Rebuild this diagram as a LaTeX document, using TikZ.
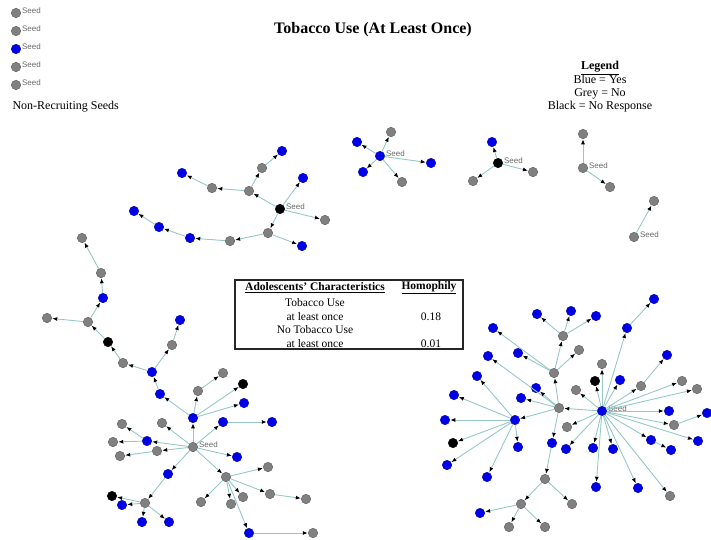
\documentclass[tikz,border=0pt]{standalone}
\usepackage{fontspec}
\setmainfont{Liberation Serif}
\newfontfamily\labelfont{Liberation Sans}
\usetikzlibrary{positioning,arrows.meta}
\definecolor{linkcol}{RGB}{150,200,200}
\definecolor{yescol}{RGB}{0,0,230}
\definecolor{nocol}{RGB}{128,128,128}
\definecolor{seedgrey}{RGB}{105,105,105}

\begin{document}
\begin{tikzpicture}[x=1pt,y=-1pt,
	yesnode/.style={circle,inner sep=0pt,minimum size=9.5pt,fill=yescol,draw=yescol!75!black,line width=0.4pt},
	nonode/.style={circle,inner sep=0pt,minimum size=9.5pt,fill=nocol,draw=nocol!70!black,line width=0.4pt},
	nrnode/.style={circle,inner sep=0pt,minimum size=9.5pt,fill=black,draw=black,line width=0.4pt},
	link/.style={draw=linkcol,line width=0.9pt,-{Latex[length=5pt,width=4pt,black]},shorten >=0.3pt},
	seedtext/.style={font=\labelfont\fontsize{8}{9}\selectfont,text=seedgrey,inner sep=0pt,yshift=2.5pt}]
		\useasboundingbox (0,0) rectangle (711,539);
		
		\node (title) at (373,30){\fontsize{16}{18}\selectfont\bfseries Tobacco Use (At Least Once)};
		
		\node[align=center,font=\fontsize{12}{13.4}\selectfont] (legend) at (600,87){\textbf{\underline{Legend}}\\Blue = Yes\\Grey = No\\Black = No Response};
		
		\node[nonode] (n1) at (16,13){};
		\node[nonode] (n2) at (16,31){};
		\node[yesnode] (n3) at (16,49){};
		\node[nonode] (n4) at (16,67){};
		\node[nonode] (n5) at (16,85){};
		\node[seedtext,right=1pt of n1] (n1t){Seed};
		\node[seedtext,right=1pt of n2] (n2t){Seed};
		\node[seedtext,right=1pt of n3] (n3t){Seed};
		\node[seedtext,right=1pt of n4] (n4t){Seed};
		\node[seedtext,right=1pt of n5] (n5t){Seed};
		\node[anchor=west] (nrs) at (9,107){\fontsize{12}{14}\selectfont Non-Recruiting Seeds};
		
		\draw[line width=1.3pt,draw=black!85] (235,280) rectangle (463,349);
		\node (chr) at (315,288){\fontsize{11.5}{13}\selectfont\textbf{\underline{Adolescents' Characteristics}}};
		\node (hom) at (429,288){\fontsize{11.5}{13}\selectfont\textbf{\underline{Homophily}}};
		\node (use) at (315,303){\fontsize{11.5}{13}\selectfont Tobacco Use};
		\node (usea) at (315,317){\fontsize{11.5}{13}\selectfont at least once};
		\node (useh) at (431,317){\fontsize{11.5}{13}\selectfont 0.18};
		\node (nouse) at (315,330){\fontsize{11.5}{13}\selectfont No Tobacco Use};
		\node (nousea) at (315,344){\fontsize{11.5}{13}\selectfont at least once};
		\node (nouseh) at (431,344){\fontsize{11.5}{13}\selectfont 0.01};
		
		\node[nrnode] (a0) at (280,209){};
		\node[nonode] (a1) at (249,191){};
		\node[nonode] (a2) at (212,188){};
		\node[yesnode] (a3) at (182,173){};
		\node[nonode] (a4) at (262,168){};
		\node[yesnode] (a5) at (282,151){};
		\node[yesnode] (a6) at (303,178){};
		\node[nonode] (a7) at (325,220){};
		\node[nonode] (a8) at (268,233){};
		\node[nonode] (a9) at (230,241){};
		\node[yesnode] (a10) at (190,238){};
		\node[yesnode] (a11) at (159,227){};
		\node[yesnode] (a12) at (134,211){};
		\node[yesnode] (a13) at (302,246){};
		\node[seedtext,right=1pt of a0] (a0t){Seed};
		
		\draw[link] (a0) -- (a1);
		\draw[link] (a1) -- (a2);
		\draw[link] (a2) -- (a3);
		\draw[link] (a1) -- (a4);
		\draw[link] (a4) -- (a5);
		\draw[link] (a0) -- (a6);
		\draw[link] (a0) -- (a7);
		\draw[link] (a0) -- (a8);
		\draw[link] (a8) -- (a9);
		\draw[link] (a9) -- (a10);
		\draw[link] (a10) -- (a11);
		\draw[link] (a11) -- (a12);
		\draw[link] (a8) -- (a13);
		
		\node[yesnode] (b0) at (380,156){};
		\node[yesnode] (b1) at (357,142){};
		\node[nonode] (b2) at (391,132){};
		\node[yesnode] (b3) at (431,163){};
		\node[yesnode] (b4) at (363,172){};
		\node[nonode] (b5) at (402,182){};
		\node[seedtext,right=1pt of b0] (b0t){Seed};
		
		\draw[link] (b0) -- (b1);
		\draw[link] (b0) -- (b2);
		\draw[link] (b0) -- (b3);
		\draw[link] (b0) -- (b4);
		\draw[link] (b0) -- (b5);
		
		\node[nrnode] (c0) at (498,163){};
		\node[yesnode] (c1) at (492,142){};
		\node[nonode] (c2) at (473,181){};
		\node[nonode] (c3) at (533,172){};
		\node[seedtext,right=1pt of c0] (c0t){Seed};
		
		\draw[link] (c0) -- (c1);
		\draw[link] (c0) -- (c2);
		\draw[link] (c0) -- (c3);
		
		\node[nonode] (d0) at (583,168){};
		\node[nonode] (d1) at (583,134){};
		\node[nonode] (d2) at (610,187){};
		\node[seedtext,right=1pt of d0] (d0t){Seed};
		
		\draw[link] (d0) -- (d1);
		\draw[link] (d0) -- (d2);
		
		\node[nonode] (e0) at (634,237){};
		\node[nonode] (e1) at (654,201){};
		\node[seedtext,right=1pt of e0] (e0t){Seed};
		
		\draw[link] (e0) -- (e1);
		
		\node[nonode] (f0) at (193,447){};
		\node[yesnode] (f1) at (193,418){};
		\node[yesnode] (f2) at (160,394){};
		\node[yesnode] (f3) at (152,372){};
		\node[nonode] (f4) at (123,363){};
		\node[nrnode] (f5) at (108,342){};
		\node[nonode] (f6) at (88,322){};
		\node[nonode] (f7) at (47,318){};
		\node[yesnode] (f8) at (103,298){};
		\node[nonode] (f9) at (101,273){};
		\node[nonode] (f10) at (82,238){};
		\node[nonode] (f11) at (172,345){};
		\node[yesnode] (f12) at (180,320){};
		\node[nonode] (f13) at (198,391){};
		\node[nonode] (f14) at (223,373){};
		\node[nrnode] (f15) at (243,384){};
		\node[yesnode] (f16) at (244,403){};
		\node[yesnode] (f17) at (223,422){};
		\node[yesnode] (f18) at (272,422){};
		\node[yesnode] (f19) at (147,441){};
		\node[nonode] (f20) at (122,424){};
		\node[nonode] (f21) at (113,442){};
		\node[nonode] (f22) at (162,423){};
		\node[nonode] (f23) at (157,451){};
		\node[nonode] (f24) at (120,456){};
		\node[yesnode] (f25) at (237,457){};
		\node[yesnode] (f26) at (168,474){};
		\node[nonode] (f27) at (145,503){};
		\node[nrnode] (f28) at (112,496){};
		\node[yesnode] (f29) at (122,505){};
		\node[yesnode] (f30) at (142,522){};
		\node[yesnode] (f31) at (169,522){};
		\node[nonode] (f32) at (226,477){};
		\node[nonode] (f33) at (268,467){};
		\node[nonode] (f34) at (270,494){};
		\node[nonode] (f35) at (306,499){};
		\node[nonode] (f36) at (243,497){};
		\node[nonode] (f37) at (201,502){};
		\node[nonode] (f38) at (231,504){};
		\node[yesnode] (f39) at (249,533){};
		\node[nonode] (f40) at (313,533){};
		\node[seedtext,right=1pt of f0] (f0t){Seed};
		
		\draw[link] (f0) -- (f1);
		\draw[link] (f1) -- (f2);
		\draw[link] (f2) -- (f3);
		\draw[link] (f3) -- (f4);
		\draw[link] (f4) -- (f5);
		\draw[link] (f5) -- (f6);
		\draw[link] (f6) -- (f7);
		\draw[link] (f6) -- (f8);
		\draw[link] (f8) -- (f9);
		\draw[link] (f9) -- (f10);
		\draw[link] (f3) -- (f11);
		\draw[link] (f11) -- (f12);
		\draw[link] (f1) -- (f13);
		\draw[link] (f13) -- (f14);
		\draw[link] (f1) -- (f15);
		\draw[link] (f1) -- (f16);
		\draw[link] (f0) -- (f17);
		\draw[link] (f17) -- (f18);
		\draw[link] (f0) -- (f19);
		\draw[link] (f19) -- (f20);
		\draw[link] (f19) -- (f21);
		\draw[link] (f0) -- (f22);
		\draw[link] (f0) -- (f23);
		\draw[link] (f23) -- (f24);
		\draw[link] (f0) -- (f25);
		\draw[link] (f0) -- (f26);
		\draw[link] (f26) -- (f27);
		\draw[link] (f27) -- (f28);
		\draw[link] (f27) -- (f29);
		\draw[link] (f27) -- (f30);
		\draw[link] (f27) -- (f31);
		\draw[link] (f0) -- (f32);
		\draw[link] (f32) -- (f33);
		\draw[link] (f32) -- (f34);
		\draw[link] (f34) -- (f35);
		\draw[link] (f32) -- (f36);
		\draw[link] (f32) -- (f37);
		\draw[link] (f32) -- (f38);
		\draw[link] (f32) -- (f39);
		\draw[link] (f39) -- (f40);
		
		\node[yesnode] (g0) at (602,411){};
		\node[nonode] (g1) at (559,408){};
		\node[yesnode] (g2) at (515,420){};
		\node[yesnode] (g3) at (445,420){};
		\node[nrnode] (g4) at (453,443){};
		\node[yesnode] (g5) at (447,465){};
		\node[yesnode] (g6) at (487,477){};
		\node[yesnode] (g7) at (518,447){};
		\node[yesnode] (g8) at (477,376){};
		\node[yesnode] (g9) at (454,395){};
		\node[yesnode] (g10) at (488,356){};
		\node[yesnode] (g11) at (536,388){};
		\node[yesnode] (g12) at (521,398){};
		\node[nonode] (g13) at (554,373){};
		\node[yesnode] (g14) at (518,353){};
		\node[yesnode] (g15) at (493,328){};
		\node[nonode] (g16) at (579,350){};
		\node[nonode] (g17) at (563,336){};
		\node[yesnode] (g18) at (537,314){};
		\node[yesnode] (g19) at (571,311){};
		\node[yesnode] (g20) at (596,316){};
		\node[yesnode] (g21) at (552,443){};
		\node[nonode] (g22) at (545,479){};
		\node[nonode] (g23) at (521,504){};
		\node[nonode] (g24) at (572,504){};
		\node[yesnode] (g25) at (480,513){};
		\node[nonode] (g26) at (509,527){};
		\node[nonode] (g27) at (545,527){};
		\node[yesnode] (g28) at (627,328){};
		\node[yesnode] (g29) at (654,299){};
		\node[nonode] (g30) at (602,364){};
		\node[nrnode] (g31) at (595,381){};
		\node[yesnode] (g32) at (620,380){};
		\node[nonode] (g33) at (641,386){};
		\node[yesnode] (g34) at (667,355){};
		\node[nonode] (g35) at (682,381){};
		\node[nonode] (g36) at (697,389){};
		\node[nonode] (g37) at (576,390){};
		\node[yesnode] (g38) at (669,411){};
		\node[nonode] (g39) at (674,425){};
		\node[yesnode] (g40) at (707,413){};
		\node[nonode] (g41) at (567,427){};
		\node[yesnode] (g42) at (566,449){};
		\node[yesnode] (g43) at (593,448){};
		\node[yesnode] (g44) at (613,449){};
		\node[yesnode] (g45) at (596,487){};
		\node[yesnode] (g46) at (638,488){};
		\node[nonode] (g47) at (670,496){};
		\node[yesnode] (g48) at (651,440){};
		\node[yesnode] (g49) at (671,450){};
		\node[yesnode] (g50) at (698,441){};
		\node[seedtext,right=1pt of g0] (g0t){Seed};
		
		\draw[link] (g0) -- (g1);
		\draw[link] (g1) -- (g2);
		\draw[link] (g2) -- (g3);
		\draw[link] (g2) -- (g4);
		\draw[link] (g2) -- (g5);
		\draw[link] (g2) -- (g6);
		\draw[link] (g2) -- (g7);
		\draw[link] (g2) -- (g8);
		\draw[link] (g2) -- (g9);
		\draw[link] (g1) -- (g10);
		\draw[link] (g1) -- (g11);
		\draw[link] (g1) -- (g12);
		\draw[link] (g1) -- (g13);
		\draw[link] (g13) -- (g14);
		\draw[link] (g13) -- (g15);
		\draw[link] (g13) -- (g16);
		\draw[link] (g13) -- (g17);
		\draw[link] (g17) -- (g18);
		\draw[link] (g17) -- (g19);
		\draw[link] (g17) -- (g20);
		\draw[link] (g1) -- (g21);
		\draw[link] (g21) -- (g22);
		\draw[link] (g22) -- (g23);
		\draw[link] (g22) -- (g24);
		\draw[link] (g23) -- (g25);
		\draw[link] (g23) -- (g26);
		\draw[link] (g23) -- (g27);
		\draw[link] (g0) -- (g28);
		\draw[link] (g28) -- (g29);
		\draw[link] (g0) -- (g30);
		\draw[link] (g0) -- (g31);
		\draw[link] (g0) -- (g32);
		\draw[link] (g0) -- (g33);
		\draw[link] (g33) -- (g34);
		\draw[link] (g0) -- (g35);
		\draw[link] (g0) -- (g36);
		\draw[link] (g0) -- (g37);
		\draw[link] (g0) -- (g38);
		\draw[link] (g0) -- (g39);
		\draw[link] (g39) -- (g40);
		\draw[link] (g0) -- (g41);
		\draw[link] (g0) -- (g42);
		\draw[link] (g0) -- (g43);
		\draw[link] (g0) -- (g44);
		\draw[link] (g0) -- (g45);
		\draw[link] (g0) -- (g46);
		\draw[link] (g0) -- (g47);
		\draw[link] (g0) -- (g48);
		\draw[link] (g48) -- (g49);
		\draw[link] (g0) -- (g50);
	\end{tikzpicture}
\end{document}
